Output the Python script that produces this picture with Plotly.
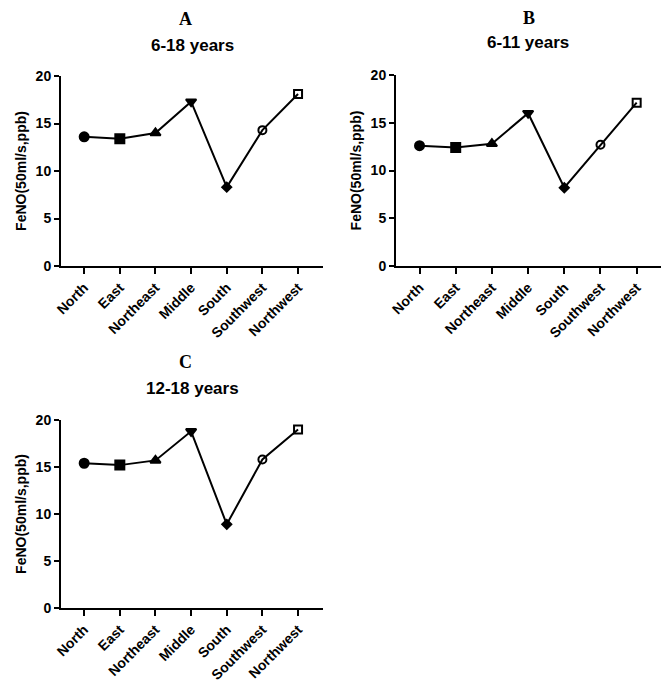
import plotly.graph_objects as go

categories = ["North", "East", "Northeast", "Middle", "South", "Southwest", "Northwest"]
vals_a = [13.6, 13.4, 14.0, 17.3, 8.3, 14.3, 18.1]
vals_b = [12.6, 12.4, 12.8, 16.0, 8.2, 12.7, 17.1]
vals_c = [15.4, 15.2, 15.7, 18.8, 8.9, 15.8, 19.0]
letters = ["A", "B", "C"]
subtitles = ["6-18 years", "6-11 years", "12-18 years"]
yticks = [0, 5, 10, 15, 20]
symbols = ["circle", "square", "triangle-up", "triangle-down", "diamond", "circle-open", "square-open"]
sizes = [9, 9, 9, 9, 7, 8, 8]

OFF = 8  # page body margin
W, H = 669 - OFF, 688 - OFF


def px(x):
    return (x - OFF) / W


def py(y):
    return 1 - (y - OFF) / H


# pixel boxes in the window: (x0, x1, ytop, ybottom)
boxes = [(61, 323, 76, 266), (396, 662, 75, 266), (61, 323, 420, 608)]
title_pos = [((185, 8), (192, 45)), ((529, 18), (528, 42)), ((185, 362), (192, 388))]

fig = go.Figure()
series = [vals_a, vals_b, vals_c]
for i, (vals, box) in enumerate(zip(series, boxes)):
    xa = "x" if i == 0 else f"x{i+1}"
    ya = "y" if i == 0 else f"y{i+1}"
    xs = list(range(len(categories)))
    fig.add_trace(go.Scatter(
        x=xs, y=vals, xaxis=xa, yaxis=ya, mode="lines+markers",
        line=dict(color="black", width=2),
        marker=dict(symbol=symbols, size=sizes, color="black", opacity=1,
                    line=dict(color="black", width=2)),
        cliponaxis=False, showlegend=False))
    x0, x1, yt, yb = box
    axis_common = dict(showgrid=False, zeroline=False, showline=True, linecolor="black",
                       linewidth=2, ticks="outside", ticklen=6, tickwidth=2, tickcolor="black",
                       automargin=False,
                       tickfont=dict(family="Liberation Sans", size=14, color="black", weight="bold"))
    xkey = "xaxis" if i == 0 else f"xaxis{i+1}"
    ykey = "yaxis" if i == 0 else f"yaxis{i+1}"
    fig.update_layout({
        xkey: dict(axis_common, domain=[px(x0), px(x1)], anchor=ya, range=[-0.65, 6.7],
                   tickvals=xs, ticktext=categories, tickangle=-45),
        ykey: dict(axis_common, domain=[py(yb), py(yt)], anchor=xa, range=[0, 20],
                   tickvals=yticks, ticklen=5,
                   tickfont=dict(family="Liberation Sans", size=14, color="black", weight="bold"),
                   title=dict(text="FeNO(50ml/s,ppb)", standoff=6,
                              font=dict(family="Liberation Sans", size=14, color="black", weight="bold"))),
    })
    (lx, ly), (sx, sy) = title_pos[i]
    fig.add_annotation(x=px(lx), y=py(ly), xref="paper", yref="paper", text=letters[i],
                       xanchor="center", yanchor="top" if i == 0 else "middle", borderpad=0,
                       showarrow=False, font=dict(family="Liberation Serif", size=18, color="black", weight="bold"))
    fig.add_annotation(x=px(sx), y=py(sy), xref="paper", yref="paper", text=subtitles[i],
                       xanchor="center", yanchor="middle",
                       showarrow=False, font=dict(family="Liberation Sans", size=17, color="black", weight="bold"))

fig.update_layout(width=W, height=H, margin=dict(l=0, r=0, t=0, b=0),
                  paper_bgcolor="white", plot_bgcolor="white")
fig.write_html("out.html")
